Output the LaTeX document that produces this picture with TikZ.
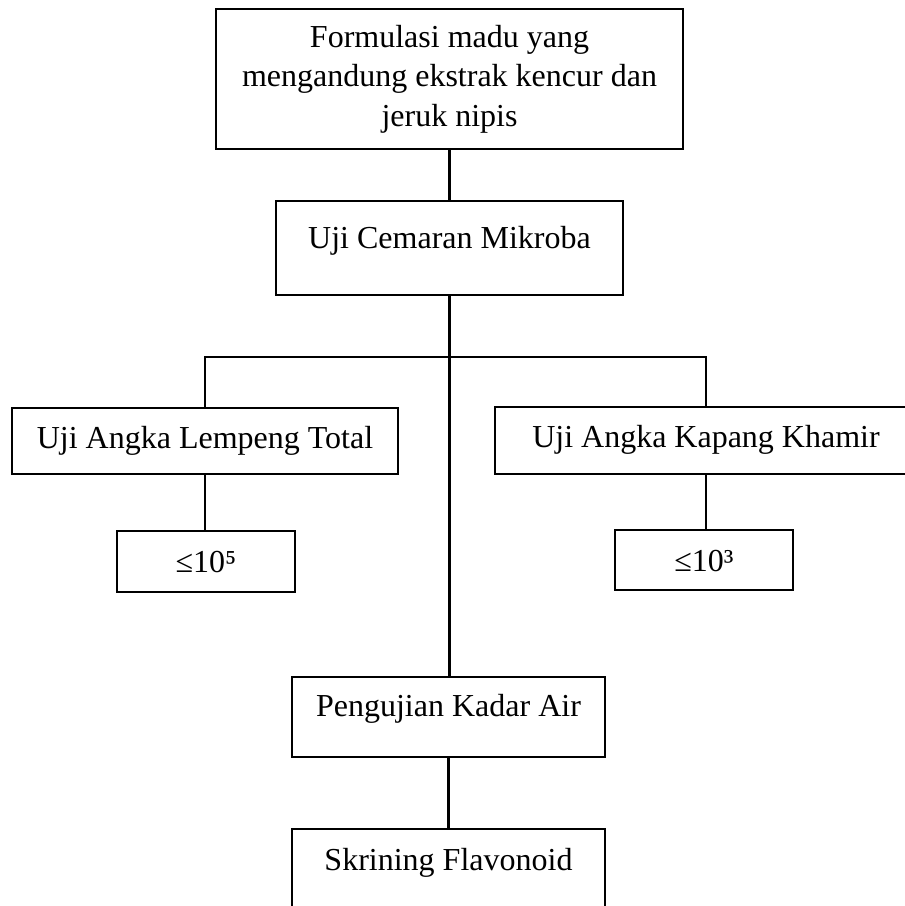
\documentclass[tikz,border=0pt]{standalone}
\usepackage{fontspec}
\setmainfont{Liberation Serif}
\tikzstyle{BoxStep}=[draw,rectangle,line width=2.8pt,inner sep=0pt,
font=\fontsize{32}{39.5}\selectfont]
\tikzstyle{LinkStep}=[line width=2.8pt]
\begin{document}
\begin{tikzpicture}[x=1pt,y=-1pt]
        \useasboundingbox(0,0)rectangle(905,906);
        \clip(0,0)rectangle(905,906);
        \node[BoxStep,align=center,minimum width=467pt,minimum height=140pt](madu)at(449.5,79){Formulasi madu yang\\mengandung ekstrak kencur dan\\jeruk nipis};
        \node[BoxStep,anchor=base,minimum width=347pt,text height=47pt,text depth=47pt](mik)at(449.5,248){Uji Cemaran Mikroba};
        \node[BoxStep,anchor=base,minimum width=386pt,text height=40pt,text depth=26pt](alt)at(205,448){Uji Angka Lempeng Total};
        \node[BoxStep,anchor=base,minimum width=422pt,text height=40pt,text depth=27pt](akk)at(706,447){Uji Angka Kapang Khamir};
        \node[BoxStep,anchor=base,minimum width=178pt,text height=41pt,text depth=20pt](alt5)at(206,572){≤10⁵};
        \node[BoxStep,anchor=base,minimum width=178pt,text height=41pt,text depth=19pt](akk3)at(704,571){≤10³};
        \node[BoxStep,anchor=base,minimum width=313pt,text height=39pt,text depth=41pt](air)at(448.5,716){Pengujian Kadar Air};
        \node[BoxStep,anchor=base,minimum width=313pt,text height=41pt,text depth=41pt](flav)at(448.5,870){Skrining Flavonoid};
        \coordinate(split)at(449.5,357);
        \draw[LinkStep](madu.south)--(mik.north);
        \draw[LinkStep](mik.south)--(mik.south|-air.north);
        \draw[LinkStep](alt.north)|-(split)-|(akk.north);
        \draw[LinkStep](alt.south)--(alt.south|-alt5.north);
        \draw[LinkStep](akk.south)--(akk.south|-akk3.north);
        \draw[LinkStep](air.south)--(flav.north);
    \end{tikzpicture}
\end{document}
